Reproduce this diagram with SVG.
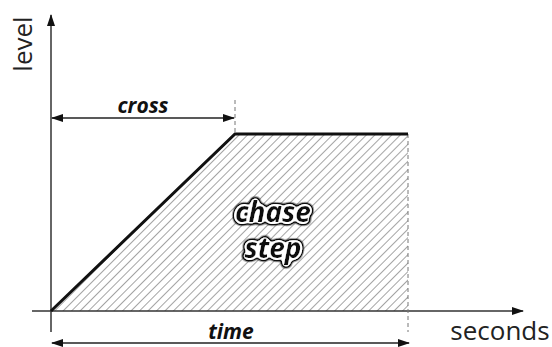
<svg xmlns="http://www.w3.org/2000/svg" width="552" height="347" viewBox="0 0 552 347">
<style>
.axis{stroke:#333;stroke-width:1.5;fill:none}
.dim{stroke:#222;stroke-width:1.3;fill:none}
.dash{stroke:#777;stroke-width:1;stroke-dasharray:4 3;fill:none}
.lbl{font-family:"Open Sans","DejaVu Sans",sans-serif;font-size:26px;fill:#222}
.bi{font-family:"Open Sans","DejaVu Sans",sans-serif;font-weight:bold;font-style:italic;fill:#111}
</style>
<defs>
<pattern id="hatch" width="6" height="6" patternUnits="userSpaceOnUse" patternTransform="rotate(45)">
<line x1="0" y1="0" x2="0" y2="6" stroke="#666" stroke-width="1.2"/>
</pattern>
<marker id="ah" markerWidth="12" markerHeight="8" refX="11" refY="4" orient="auto-start-reverse" markerUnits="userSpaceOnUse">
<path d="M0,0 L12,4 L0,8 Z" fill="#111"/>
</marker>
<filter id="halo" x="-20%" y="-40%" width="140%" height="180%">
<feGaussianBlur in="SourceAlpha" stdDeviation="2.6" result="b"/>
<feComponentTransfer in="b" result="outer"><feFuncA type="linear" slope="12" intercept="-0.2"/></feComponentTransfer>
<feFlood flood-color="#111" result="blk"/>
<feComposite in="blk" in2="outer" operator="in" result="outerB"/>
<feComponentTransfer in="b" result="inner"><feFuncA type="linear" slope="12" intercept="-1.6"/></feComponentTransfer>
<feFlood flood-color="#fff" result="wht"/>
<feComposite in="wht" in2="inner" operator="in" result="innerW"/>
<feMerge>
<feMergeNode in="outerB"/>
<feMergeNode in="innerW"/>
<feMergeNode in="SourceGraphic"/>
</feMerge>
</filter>
</defs>
<rect width="552" height="347" fill="#fff"/>
<g id="area">
<polygon points="51,311 235,134 408,134 408,311" fill="url(#hatch)"/>
</g>
<g id="connectors">
<line class="axis" x1="51" y1="332" x2="51" y2="15" marker-end="url(#ah)"/>
<line class="axis" x1="32" y1="311" x2="523" y2="311" marker-end="url(#ah)"/>
<line class="dash" x1="235" y1="100" x2="235" y2="134"/>
<line class="dash" x1="408" y1="134" x2="408" y2="332"/>
<line class="dim" x1="52" y1="118" x2="234" y2="118" marker-start="url(#ah)" marker-end="url(#ah)"/>
<line class="dim" x1="52" y1="343" x2="409" y2="343" marker-start="url(#ah)" marker-end="url(#ah)"/>
<polyline points="51,311 235,134 408,134" fill="none" stroke="#111" stroke-width="3"/>
</g>
<g id="level">
<text class="lbl" transform="translate(32,44) rotate(-90)" text-anchor="middle">level</text>
</g>
<g id="seconds">
<text class="lbl" x="500" y="340" text-anchor="middle">seconds</text>
</g>
<g id="cross">
<text class="bi" x="143" y="113" font-size="21" text-anchor="middle">cross</text>
</g>
<g id="time">
<text class="bi" x="231" y="339" font-size="21" text-anchor="middle">time</text>
</g>
<g id="chase-step" font-size="28" text-anchor="middle" filter="url(#halo)">
<text class="bi" x="273" y="222">chase</text>
<text class="bi" x="273" y="258">step</text>
</g>
</svg>
